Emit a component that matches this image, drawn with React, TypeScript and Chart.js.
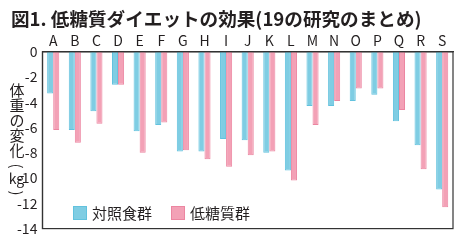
import React, { useEffect, useRef } from "react";
import { Chart, registerables } from "chart.js";

Chart.register(...registerables);

const categories = ["A","B","C","D","E","F","G","H","I","J","K","L","M","N","O","P","Q","R","S"];
const controlValues = [-3.3, -6.2, -4.7, -2.6, -6.3, -5.8, -7.9, -7.9, -6.9, -7.0, -8.0, -9.4, -4.3, -4.3, -3.9, -3.4, -5.5, -7.4, -10.9];
const lowCarbValues = [-6.2, -7.2, -5.7, -2.6, -8.0, -5.6, -7.8, -8.5, -9.1, -8.2, -7.9, -10.2, -5.8, -3.9, -2.9, -2.9, -4.6, -9.3, -12.3];
const seriesLabels = ["対照食群", "低糖質群"];
const titleText = "図1. 低糖質ダイエットの効果(19の研究のまとめ)";
const yTitleChars = ["体", "重", "の", "変", "化"];
const yTitleUnit = "kg";

const FONT = "'Noto Sans CJK JP', 'Noto Sans', sans-serif";
const BLUE = "#7fcde3";
const BLUE_B = "#62c2de";
const PINK = "#f3a1b6";
const PINK_B = "#ec86a1";

const decorPlugin = {
  id: "decor",
  afterDraw(chart: any) {
    const ctx = chart.ctx;
    const a = chart.chartArea;
    ctx.save();
    // frame
    ctx.strokeStyle = "#333";
    ctx.lineWidth = 1.2;
    ctx.strokeRect(a.left, a.top, a.right - a.left, a.bottom - a.top);
    // title
    ctx.fillStyle = "#231f20";
    ctx.font = `bold 18.6px ${FONT}`;
    ctx.textBaseline = "middle";
    ctx.textAlign = "left";
    ctx.fillText(titleText, 11, 19);
    // y title (vertical)
    ctx.font = `15px ${FONT}`;
    ctx.textAlign = "center";
    const cx = 17;
    yTitleChars.forEach((ch, i) => {
      ctx.fillText(ch, cx, 90 + i * 15);
    });
    const drawRot = (t: string, y: number) => {
      ctx.save();
      ctx.translate(cx, y);
      ctx.rotate(Math.PI / 2);
      ctx.fillText(t, 0, 0);
      ctx.restore();
    };
    drawRot("(", 166);
    ctx.font = `14px ${FONT}`;
    ctx.fillText(yTitleUnit, cx - 0.5, 179);
    ctx.font = `15px ${FONT}`;
    drawRot(")", 193);
    // legend
    const ds = chart.data.datasets;
    const items = [
      { x: 73, label: seriesLabels[0], ds: ds[0] },
      { x: 171, label: seriesLabels[1], ds: ds[1] },
    ];
    ctx.font = `15px ${FONT}`;
    ctx.textAlign = "left";
    items.forEach((it) => {
      ctx.fillStyle = it.ds.backgroundColor;
      ctx.strokeStyle = it.ds.borderColor;
      ctx.lineWidth = 1;
      ctx.fillRect(it.x, 206, 14, 14);
      ctx.strokeRect(it.x + 0.5, 206.5, 13, 13);
      ctx.fillStyle = "#231f20";
      ctx.fillText(it.label, it.x + 19, 213.5);
    });
    ctx.restore();
  },
};

export default function App() {
  const ref = useRef<HTMLCanvasElement | null>(null);
  useEffect(() => {
    document.body.style.margin = "0";
    const chart = new Chart(ref.current as HTMLCanvasElement, {
      type: "bar",
      data: {
        labels: categories,
        datasets: [
          {
            label: seriesLabels[0],
            data: controlValues,
            backgroundColor: BLUE,
            borderColor: BLUE_B,
            borderWidth: 1,
            categoryPercentage: 0.56,
            barPercentage: 1.0,
          },
          {
            label: seriesLabels[1],
            data: lowCarbValues,
            backgroundColor: PINK,
            borderColor: PINK_B,
            borderWidth: 1,
            categoryPercentage: 0.56,
            barPercentage: 1.0,
          },
        ],
      },
      options: {
        animation: false,
        responsive: false,
        maintainAspectRatio: false,
        layout: { padding: { top: 29, left: 12, right: 17, bottom: 10 } },
        plugins: {
          legend: { display: false },
          title: { display: false },
          tooltip: { enabled: false },
        },
        scales: {
          x: {
            position: "top",
            grid: { display: false, drawTicks: false },
            border: { display: true, color: "#333", width: 1.2 },
            ticks: { color: "#231f20", font: { family: FONT, size: 14 }, padding: 3, maxRotation: 0 },
          },
          y: {
            min: -14,
            max: 0,
            grid: { display: false, drawTicks: false },
            border: { display: true, color: "#333", width: 1.2 },
            ticks: { stepSize: 2, color: "#231f20", font: { family: FONT, size: 14 }, padding: 5 },
          },
        },
      },
      plugins: [decorPlugin],
    });
    return () => chart.destroy();
  }, []);
  return (
    <div style={{ width: 470, height: 242, background: "#fff" }}>
      <canvas ref={ref} width={470} height={242} style={{ display: "block" }} />
    </div>
  );
}
